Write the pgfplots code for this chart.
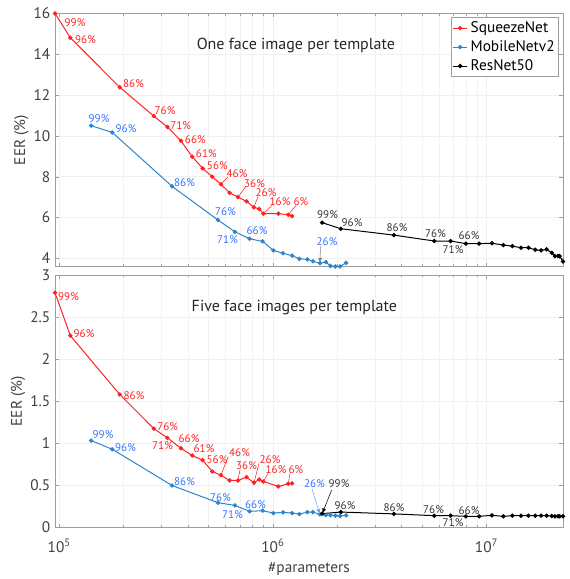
\documentclass[border=0pt]{standalone}
\usepackage{fontspec}
\setmainfont{PT Sans}
\usepackage{pgfplots}
\pgfplotsset{compat=1.18}

\definecolor{mred}{rgb}{1,0.13,0.13}
\definecolor{mblue}{rgb}{0.17,0.52,0.8}
\definecolor{tblue}{rgb}{0.2,0.45,1}
\definecolor{tgray}{gray}{0.2}
\definecolor{axgray}{gray}{0.62}
\definecolor{ticktxt}{gray}{0.25}

\pgfplotsset{
  eerstyle/.style={
    scale only axis, width=381pt,
    xmin=9.55e4, xmax=2.28e7,
    xtick={1e5,1e6,1e7},
    axis line style={axgray}, tick style={axgray},
    tick align=inside, major tick length=3pt, minor tick length=1.8pt,
    xmajorgrids, xminorgrids, ymajorgrids,
    grid style={gray!12}, minor grid style={gray!10},
    tick label style={font=\fontsize{11.5}{12}\selectfont, text=ticktxt},
    xticklabel style={yshift=-5pt},
    /pgf/number format/assume math mode=true,
    label style={font=\fontsize{11.5}{12}\selectfont, text=ticktxt},
    ylabel style={yshift=-3pt},
    xlabel style={yshift=-1pt},
    clip=false,
    every axis plot/.append style={line width=0.75pt, mark=*, mark size=1.25pt},
  },
}

\newcommand{\lab}[4]{\node[font=\fontsize{8.3}{8.3}\selectfont, text=#1, inner sep=0pt] at (#2,{579-#3}) {#4};}

\begin{document}
\begin{tikzpicture}[x=0.75pt,y=0.75pt]

% ---------- top: one face image per template
\begin{semilogxaxis}[eerstyle, at={(41.25pt,234.2pt)}, anchor=south west,
  height=190pt, ymin=3.59, ymax=16, ytick={4,6,8,10,12,14,16},
  xticklabels={}, ylabel={EER (\%)},
  legend style={at={(0.992,0.984)}, anchor=north east, draw=axgray,
    font=\fontsize{11.5}{12.5}\selectfont, inner sep=1pt, row sep=0.5pt,
    cells={anchor=west}},
  legend image code/.code={\draw[mark repeat=2,mark phase=2,#1] plot coordinates {(0,0) (5.5pt,0) (11pt,0)};},
]
\addplot[mred, mark options={fill=mred}] coordinates {
(9.55e4,16.0) (1.126e5,14.81) (1.92e5,12.38) (2.77e5,10.97) (3.21e5,10.43)
(3.71e5,9.76) (4.19e5,8.98) (4.69e5,8.41) (5.20e5,8.00) (5.71e5,7.63)
(6.27e5,7.21) (6.86e5,7.00) (7.53e5,6.79) (8.15e5,6.50) (8.63e5,6.42)
(9.02e5,6.19) (1.06e6,6.19) (1.18e6,6.14) (1.23e6,6.07)};
\addlegendentry{SqueezeNet}
\addplot[mblue, mark options={fill=mblue}] coordinates {
(1.41e5,10.50) (1.77e5,10.17) (3.37e5,7.53) (5.53e5,5.88) (6.64e5,5.30)
(7.78e5,4.96) (8.95e5,4.83) (1.005e6,4.39) (1.115e6,4.25) (1.23e6,4.13)
(1.33e6,3.98) (1.45e6,3.95) (1.54e6,3.86) (1.66e6,3.76) (1.77e6,3.82)
(1.86e6,3.63) (1.96e6,3.60) (2.06e6,3.60) (2.20e6,3.78)};
\addlegendentry{MobileNetv2}
\addplot[black, mark options={fill=black}] coordinates {
(1.70e6,5.75) (2.08e6,5.45) (3.68e6,5.14) (5.69e6,4.85) (6.79e6,4.85)
(8.0e6,4.72) (9.23e6,4.72) (1.06e7,4.74) (1.20e7,4.65) (1.32e7,4.60)
(1.45e7,4.52) (1.57e7,4.52) (1.69e7,4.42) (1.80e7,4.39) (1.91e7,4.44)
(2.02e7,4.27) (2.09e7,4.11) (2.16e7,4.11) (2.20e7,4.11) (2.28e7,3.85)};
\addlegendentry{ResNet50}
\coordinate (tr10) at (axis cs:5.71e5,7.63);
\coordinate (tr12) at (axis cs:6.86e5,7.00);
\coordinate (tr14) at (axis cs:8.15e5,6.50);
\coordinate (tr16) at (axis cs:9.02e5,6.19);
\coordinate (tr18) at (axis cs:1.18e6,6.14);
\coordinate (tb14) at (axis cs:1.66e6,3.76);
\node[font=\fontsize{12}{13}\selectfont, text=black!85] at (axis cs:1.28e6,14.45) {One face image per template};
\end{semilogxaxis}

% ---------- bottom: five face images per template
\begin{semilogxaxis}[eerstyle, at={(41.25pt,38.6pt)}, anchor=south west,
  height=189.4pt, ymin=0, ymax=3, ytick={0,0.5,1,1.5,2,2.5,3},
  yticklabels={0,0.5,1,1.5,2,2.5,3},
  xticklabels={10\textsuperscript{5},10\textsuperscript{6},10\textsuperscript{7}},
  xlabel={\#parameters}, ylabel={EER (\%)},
]
\addplot[mred, mark options={fill=mred}] coordinates {
(9.55e4,2.79) (1.126e5,2.28) (1.92e5,1.58) (2.77e5,1.175) (3.21e5,1.065)
(3.71e5,0.942) (4.19e5,0.855) (4.69e5,0.80) (5.20e5,0.666) (5.71e5,0.622)
(6.27e5,0.559) (6.86e5,0.559) (7.53e5,0.598) (8.15e5,0.532) (8.63e5,0.571)
(9.02e5,0.547) (1.06e6,0.488) (1.18e6,0.520) (1.23e6,0.524)};
\addplot[mblue, mark options={fill=mblue}] coordinates {
(1.41e5,1.033) (1.77e5,0.93) (3.37e5,0.50) (5.53e5,0.295) (6.64e5,0.263)
(7.78e5,0.192) (8.95e5,0.20) (1.005e6,0.172) (1.115e6,0.18) (1.23e6,0.172)
(1.33e6,0.16) (1.45e6,0.183) (1.54e6,0.183) (1.66e6,0.156) (1.77e6,0.148)
(1.86e6,0.145) (1.96e6,0.141) (2.06e6,0.137) (2.20e6,0.145)};
\addplot[black, mark options={fill=black}] coordinates {
(1.70e6,0.165) (2.08e6,0.184) (3.68e6,0.162) (5.69e6,0.141) (6.79e6,0.141)
(8.0e6,0.133) (9.23e6,0.133) (1.06e7,0.145) (1.20e7,0.133) (1.32e7,0.141)
(1.45e7,0.141) (1.57e7,0.141) (1.69e7,0.141) (1.80e7,0.141) (1.91e7,0.141)
(2.02e7,0.137) (2.09e7,0.133) (2.16e7,0.133) (2.20e7,0.133) (2.28e7,0.133)};
\coordinate (br10) at (axis cs:5.71e5,0.622);
\coordinate (br12) at (axis cs:6.86e5,0.559);
\coordinate (br14) at (axis cs:8.15e5,0.532);
\coordinate (br16) at (axis cs:9.02e5,0.547);
\coordinate (br18) at (axis cs:1.18e6,0.520);
\coordinate (bb14) at (axis cs:1.66e6,0.156);
\coordinate (bk1) at (axis cs:1.70e6,0.165);
\node[font=\fontsize{12}{13}\selectfont, text=black!85] at (axis cs:1.26e6,2.61) {Five face images per template};
\end{semilogxaxis}

% ---------- percentage annotations (top)
\lab{mred}{75}{22.7}{99\%}
\lab{mred}{85.5}{40}{96\%}
\lab{mred}{133.5}{83.3}{86\%}
\lab{mred}{165}{111}{76\%}
\lab{mred}{180.7}{126}{71\%}
\lab{mred}{195.3}{140}{66\%}
\lab{mred}{206.3}{154}{61\%}
\lab{mred}{217.3}{166}{56\%}
\lab{mred}{237}{173.3}{46\%}
\lab{mred}{254.5}{183.3}{36\%}
\lab{mred}{266}{192.5}{26\%}
\lab{mred}{280}{202}{16\%}
\lab{mred}{301}{202}{6\%}
\draw[mred, line width=0.4pt] (228,{579-177}) -- (tr10);
\draw[mred, line width=0.4pt] (245.5,{579-187}) -- (tr12);
\draw[mred, line width=0.4pt] (258,{579-196.5}) -- (tr14);
\draw[mred, line width=0.4pt] (272,{579-205.5}) -- (tr16);
\draw[mred, line width=0.4pt] (296,{579-205.5}) -- (tr18);

\lab{tblue}{99}{118.3}{99\%}
\lab{tblue}{126}{128.3}{96\%}
\lab{tblue}{184.5}{182.3}{86\%}
\lab{tblue}{225.5}{212}{76\%}
\lab{tblue}{227.5}{239.7}{71\%}
\lab{tblue}{257}{231}{66\%}
\lab{tblue}{327}{241.7}{26\%}
\draw[gray, line width=0.4pt, -latex] (320.5,{579-246.5}) -- (tb14);

\lab{tgray}{327.5}{215}{99\%}
\lab{tgray}{352}{222.3}{96\%}
\lab{tgray}{397}{227.7}{86\%}
\lab{tgray}{435.5}{234}{76\%}
\lab{tgray}{453}{250}{71\%}
\lab{tgray}{469}{236}{66\%}

% ---------- percentage annotations (bottom)
\lab{mred}{68.5}{296.7}{99\%}
\lab{mred}{84}{334}{96\%}
\lab{mred}{134}{395.7}{86\%}
\lab{mred}{167.7}{426.7}{76\%}
\lab{mred}{162.5}{446}{71\%}
\lab{mred}{189}{438.5}{66\%}
\lab{mred}{204}{448.5}{61\%}
\lab{mred}{217}{459.3}{56\%}
\lab{mred}{239.5}{452.7}{46\%}
\lab{mred}{246.5}{465.7}{36\%}
\lab{mred}{270}{459.3}{26\%}
\lab{mred}{276}{469.3}{16\%}
\lab{mred}{296}{469.3}{6\%}
\draw[mred, line width=0.4pt] (228.3,{579-456.7}) -- (br10);
\draw[mred, line width=0.4pt] (240,{579-470}) -- (br12);
\draw[mred, line width=0.4pt] (259,{579-463.5}) -- (br14);
\draw[mred, line width=0.4pt] (268,{579-473.5}) -- (br16);
\draw[mred, line width=0.4pt] (290,{579-473.5}) -- (br18);

\lab{tblue}{103}{435}{99\%}
\lab{tblue}{125.5}{447.3}{96\%}
\lab{tblue}{184.5}{481.3}{86\%}
\lab{tblue}{220.5}{497.3}{76\%}
\lab{tblue}{232.5}{514.3}{71\%}
\lab{tblue}{255.5}{505}{66\%}
\lab{tblue}{314.5}{484}{26\%}
\draw[tblue!70, line width=0.4pt, -latex] (312,{579-489}) -- (bb14);

\lab{tgray}{339}{484}{99\%}
\lab{tgray}{345}{506}{96\%}
\lab{tgray}{394}{507.7}{86\%}
\lab{tgray}{433.5}{509.3}{76\%}
\lab{tgray}{453}{522.7}{71\%}
\lab{tgray}{469}{510.7}{66\%}
\draw[black, line width=0.4pt, -latex] (331.7,{579-490}) -- (bk1);

\pgfresetboundingbox
\path[use as bounding box] (0,0) rectangle (569,579);
\end{tikzpicture}
\end{document}
